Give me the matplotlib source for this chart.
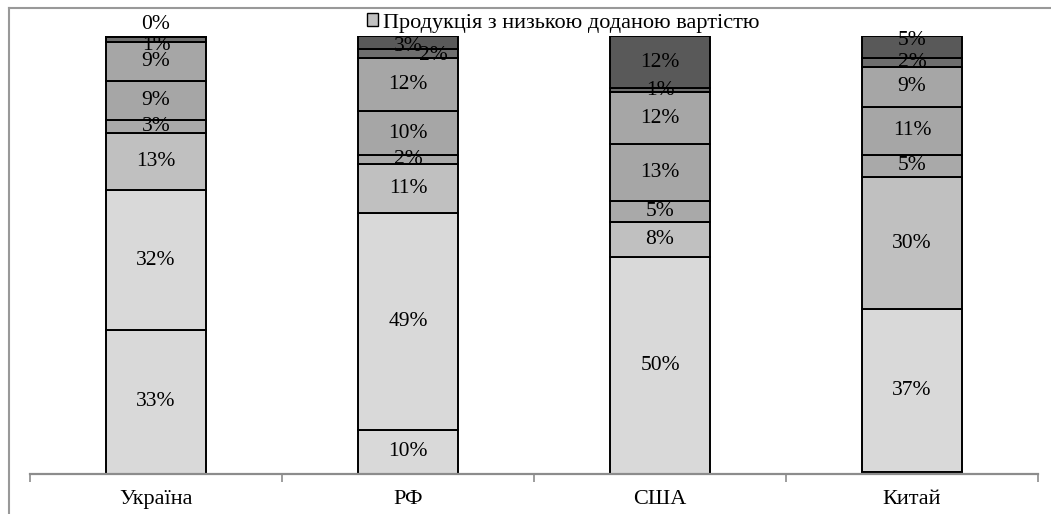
import matplotlib
matplotlib.use("Agg")
import matplotlib.pyplot as plt
from matplotlib.lines import Line2D
import numpy as np

plt.rcParams['font.family'] = ['Liberation Serif', 'DejaVu Serif']

# Countries and stacked shares (%), bottom segment first
categories = ["Україна", "РФ", "США", "Китай"]

s1 = [33, 10, 0, 0.4]
s2 = [32, 49, 50, 37]
s3 = [13, 11, 8, 30]
s4 = [3, 2, 5, 5]
s5 = [9, 10, 13, 11]
s6 = [9, 12, 12, 9]
s7 = [1, 2, 1, 2]
s8 = [0.3, 3, 12, 5]

series = [s1, s2, s3, s4, s5, s6, s7, s8]
colors = ['#d9d9d9', '#d9d9d9', '#c0c0c0', '#a9a9a9',
          '#a6a6a6', '#a6a6a6', '#6e6e6e', '#595959']
legend_label = "Продукція з низькою доданою вартістю"
legend_series = 2

# segments whose value labels are hidden (series index, category index)
hidden_labels = {(0, 2), (0, 3)}
# small manual nudges for crowded labels (dx in categories, dy in axis fraction)
label_nudge = {(7, 0): (0, 0.027), (6, 0): (0, -0.014),
               (6, 1): (0.1, -0.004), (7, 1): (0, -0.009),
               (7, 3): (0, 0.016)}

fig = plt.figure(figsize=(10.51, 5.14), dpi=100)
ax = fig.add_axes([30 / 1051, 1 - 474 / 514, 1008 / 1051, 438 / 514])

data = np.array(series, dtype=float)
totals = data.sum(axis=0)
frac = data / totals

x = np.arange(len(categories))
bottom = np.zeros(len(categories))
handles = []
for i, (vals, col) in enumerate(zip(frac, colors)):
    bars = ax.bar(x, vals, width=0.4, bottom=bottom, color=col,
                  edgecolor='black', linewidth=1.4, zorder=2)
    if i == legend_series:
        handles.append(bars)
    for j in range(len(categories)):
        if (i, j) in hidden_labels:
            continue
        dx, dy = label_nudge.get((i, j), (0, 0))
        ax.text(x[j] + dx, bottom[j] + vals[j] / 2 + dy,
                f"{data[i, j]:.0f}%", ha='center', va='center',
                fontsize=15.5, color='black', zorder=3, clip_on=False)
    bottom = bottom + vals

ax.set_xlim(-0.5, len(categories) - 0.5)
ax.set_ylim(0, 1)
ax.set_yticks([])
for side in ['left', 'right', 'top']:
    ax.spines[side].set_visible(False)
ax.spines['bottom'].set_color('#8c8c8c')
ax.spines['bottom'].set_linewidth(1.6)
ax.spines['bottom'].set_zorder(4)

ax.set_xticks(x)
ax.set_xticklabels(categories, fontsize=16)
ax.tick_params(axis='x', which='major', length=0, pad=11.5)
ax.set_xticks(np.arange(-0.5, len(categories)), minor=True)
ax.tick_params(axis='x', which='minor', length=6, width=1.2, color='#8c8c8c',
               direction='out')

leg = fig.legend([handles[0]], [legend_label], loc='center',
                 bbox_to_anchor=(563 / 1051, 1 - 23 / 514), frameon=False,
                 fontsize=16, handlelength=0.5, handleheight=0.5,
                 handletextpad=0.2, borderpad=0)
for h in leg.legend_handles:
    h.set_linewidth(1.0)

# outer chart border (left and top edges)
fig.add_artist(Line2D([9 / 1051, 9 / 1051], [0, 1 - 8 / 514],
                      transform=fig.transFigure, color='#999999', lw=1.5))
fig.add_artist(Line2D([9 / 1051, 1], [1 - 8 / 514, 1 - 8 / 514],
                      transform=fig.transFigure, color='#999999', lw=1.5))

fig.savefig("out.png", dpi=100)
